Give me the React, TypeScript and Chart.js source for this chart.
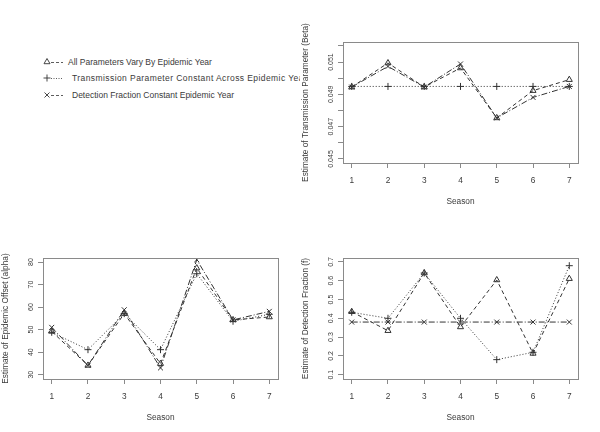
import React, { useEffect, useRef } from "react";
import { Chart, registerables } from "chart.js";

Chart.register(...registerables);

// ---------- data ----------
const seasons = [1, 2, 3, 4, 5, 6, 7];
const seriesNames = [
  "All Parameters Vary By Epidemic Year",
  "Transmission Parameter Constant Across Epidemic Year",
  "Detection Fraction Constant Epidemic Year",
];

const betaAllVary = [0.04945, 0.05094, 0.04945, 0.05063, 0.04754, 0.04923, 0.04991];
const betaTransConst = [0.04949, 0.04949, 0.04949, 0.04949, 0.04949, 0.04949, 0.04949];
const betaDetectConst = [0.04945, 0.05073, 0.04945, 0.05088, 0.04754, 0.04881, 0.04949];

const alphaAllVary = [49.2, 34.1, 57.1, 34.9, 77.3, 54.3, 55.6];
const alphaTransConst = [48.8, 41.1, 57.1, 41.1, 74.8, 53.7, 56.8];
const alphaDetectConst = [51.0, 34.1, 58.8, 33.0, 81.0, 54.3, 58.1];

const fAllVary = [0.435, 0.334, 0.641, 0.354, 0.604, 0.213, 0.611];
const fTransConst = [0.432, 0.4, 0.641, 0.4, 0.18, 0.219, 0.68];
const fDetectConst = [0.38, 0.38, 0.38, 0.38, 0.38, 0.38, 0.38];

const betaTicks = [0.045, 0.046, 0.047, 0.048, 0.049, 0.05, 0.051, 0.052];
const betaTickLabels = ["0.045", "", "0.047", "", "0.049", "", "0.051", ""];
const alphaTicks = [30, 40, 50, 60, 70, 80];
const alphaTickLabels = ["30", "40", "50", "60", "70", "80"];
const fTicks = [0.1, 0.2, 0.3, 0.4, 0.5, 0.6, 0.7];
const fTickLabels = ["0.1", "0.2", "0.3", "0.4", "0.5", "0.6", "0.7"];

// ---------- styles ----------
const FONT = "'Liberation Sans', Arial, sans-serif";
const TEXT = "#3a3a3a";
const LINE = "#333333";
const FRAME = "#8a8a8a";
const DASHES = [[4, 3], [1, 2], [6, 2, 1, 2]];
const STYLES = ["triangle", "cross", "crossRot"];

const boxPlugin = {
  id: "rbox",
  afterDraw(chart: any) {
    const { ctx, chartArea } = chart;
    ctx.save();
    ctx.strokeStyle = FRAME;
    ctx.lineWidth = 1;
    ctx.setLineDash([]);
    ctx.strokeRect(
      Math.round(chartArea.left) + 0.5,
      Math.round(chartArea.top) + 0.5,
      Math.round(chartArea.right - chartArea.left),
      Math.round(chartArea.bottom - chartArea.top)
    );
    ctx.restore();
  },
};

function measure(text: string, size: number) {
  const c = document.createElement("canvas").getContext("2d") as CanvasRenderingContext2D;
  c.font = `normal ${size}px ${FONT}`;
  return c.measureText(text).width;
}

type PanelProps = {
  left: number;
  top: number;
  yTitle: string;
  yMin: number;
  yMax: number;
  yTicks: number[];
  yLabels: string[];
  series: number[][];
};

function Panel({ left, top, yTitle, yMin, yMax, yTicks, yLabels, series }: PanelProps) {
  const ref = useRef<HTMLCanvasElement | null>(null);
  useEffect(() => {
    if (!ref.current) return;
    const ySize = 7;
    const widest = Math.max(...yLabels.map((l) => measure(l, ySize)));
    const yPad = 6.5 - widest / 2;
    const chart = new Chart(ref.current, {
      type: "line",
      data: {
        datasets: series.map((vals, i) => ({
          label: seriesNames[i],
          data: seasons.map((s, j) => ({ x: s, y: vals[j] })),
          borderColor: LINE,
          borderWidth: 1,
          borderDash: DASHES[i],
          pointStyle: STYLES[i] as any,
          pointRadius: 3.5,
          pointBorderColor: LINE,
          pointBackgroundColor: "rgba(0,0,0,0)",
          pointBorderWidth: 1,
          fill: false,
          tension: 0,
        })),
      },
      options: {
        responsive: false,
        animation: false,
        devicePixelRatio: 1,
        layout: { padding: { top: 42, right: 22, left: 0, bottom: 0 } },
        plugins: { legend: { display: false }, tooltip: { enabled: false } },
        scales: {
          x: {
            type: "linear",
            min: 0.76,
            max: 7.24,
            afterBuildTicks: (s: any) => {
              s.ticks = seasons.map((v) => ({ value: v }));
            },
            afterFit: (s: any) => {
              s.height = 53;
            },
            grid: { display: true, drawOnChartArea: false, drawTicks: true, tickLength: 5, color: FRAME },
            border: { display: false },
            ticks: {
              autoSkip: false,
              maxRotation: 0,
              padding: 7.8,
              color: TEXT,
              font: { family: FONT, size: 8.3 },
              callback: (v: any) => String(v),
            },
            title: {
              display: true,
              text: "Season",
              color: TEXT,
              font: { family: FONT, size: 8.3 },
              padding: { top: 0, bottom: 9.5 },
            },
          },
          y: {
            type: "linear",
            min: yMin,
            max: yMax,
            afterBuildTicks: (s: any) => {
              s.ticks = yTicks.map((v) => ({ value: v }));
            },
            afterFit: (s: any) => {
              s.width = 43;
            },
            grid: { display: true, drawOnChartArea: false, drawTicks: true, tickLength: 5, color: FRAME },
            border: { display: false },
            ticks: {
              autoSkip: false,
              minRotation: 90,
              maxRotation: 90,
              crossAlign: "center",
              padding: yPad,
              color: TEXT,
              font: { family: FONT, size: ySize },
              callback: (_v: any, idx: number) => yLabels[idx] ?? "",
            },
            title: {
              display: true,
              text: yTitle,
              color: TEXT,
              font: { family: FONT, size: 8.3 },
              padding: { top: 1, bottom: 0 },
            },
          },
        },
      } as any,
      plugins: [boxPlugin],
    });
    return () => chart.destroy();
  }, []);
  return (
    <canvas
      ref={ref}
      width={300}
      height={216}
      style={{ position: "absolute", left, top, width: 300, height: 216 }}
    />
  );
}

function LegendSymbol({ kind }: { kind: number }) {
  const cy = 5;
  let mark: React.ReactNode = null;
  if (kind === 0) {
    mark = <polygon points="4,1.5 7,6.7 1,6.7" fill="none" stroke={LINE} strokeWidth={0.9} />;
  } else if (kind === 1) {
    mark = (
      <g stroke={LINE} strokeWidth={0.9}>
        <line x1={0.5} y1={cy} x2={7.5} y2={cy} />
        <line x1={4} y1={cy - 3.5} x2={4} y2={cy + 3.5} />
      </g>
    );
  } else {
    mark = (
      <g stroke={LINE} strokeWidth={0.9}>
        <line x1={1.5} y1={cy - 2.5} x2={6.5} y2={cy + 2.5} />
        <line x1={1.5} y1={cy + 2.5} x2={6.5} y2={cy - 2.5} />
      </g>
    );
  }
  const dash = kind === 0 ? "3 2" : kind === 1 ? "1 1.5" : "3 2";
  return (
    <svg width={22} height={10} style={{ position: "absolute", left: 43, top: 0 }}>
      {mark}
      <line x1={8} y1={cy + 0.5} x2={20} y2={cy + 0.5} stroke={LINE} strokeWidth={0.8} strokeDasharray={dash} />
    </svg>
  );
}

export default function App() {
  const rowsY = [61.5, 78.3, 95.3];
  const textX = [68, 72, 72];
  const spacing = ["0px", "0.42px", "0px"];
  return (
    <div
      style={{
        position: "absolute",
        left: 0,
        top: 0,
        width: 600,
        height: 432,
        background: "#ffffff",
        overflow: "hidden",
      }}
    >
      <div
        style={{
          position: "absolute",
          left: 0,
          top: 0,
          width: 300,
          height: 216,
          overflow: "hidden",
          fontFamily: FONT,
          fontSize: 8.5,
          color: TEXT,
        }}
      >
        {seriesNames.map((name, i) => (
          <div key={i} style={{ position: "absolute", left: 0, top: rowsY[i] - 5, height: 10, width: 300 }}>
            <LegendSymbol kind={i} />
            <span
              style={{
                position: "absolute",
                left: textX[i],
                top: 0,
                lineHeight: "10px",
                whiteSpace: "nowrap",
                letterSpacing: spacing[i],
              }}
            >
              {name}
            </span>
          </div>
        ))}
      </div>
      <Panel
        left={300}
        top={0}
        yTitle="Estimate of Transmission Parameter (Beta)"
        yMin={0.04475}
        yMax={0.05224}
        yTicks={betaTicks}
        yLabels={betaTickLabels}
        series={[betaAllVary, betaTransConst, betaDetectConst]}
      />
      <Panel
        left={0}
        top={216}
        yTitle="Estimate of Epidemic Offset (alpha)"
        yMin={28.08}
        yMax={81.78}
        yTicks={alphaTicks}
        yLabels={alphaTickLabels}
        series={[alphaAllVary, alphaTransConst, alphaDetectConst]}
      />
      <Panel
        left={300}
        top={216}
        yTitle="Estimate of Detection Fraction (f)"
        yMin={0.0769}
        yMax={0.721}
        yTicks={fTicks}
        yLabels={fTickLabels}
        series={[fAllVary, fTransConst, fDetectConst]}
      />
    </div>
  );
}
